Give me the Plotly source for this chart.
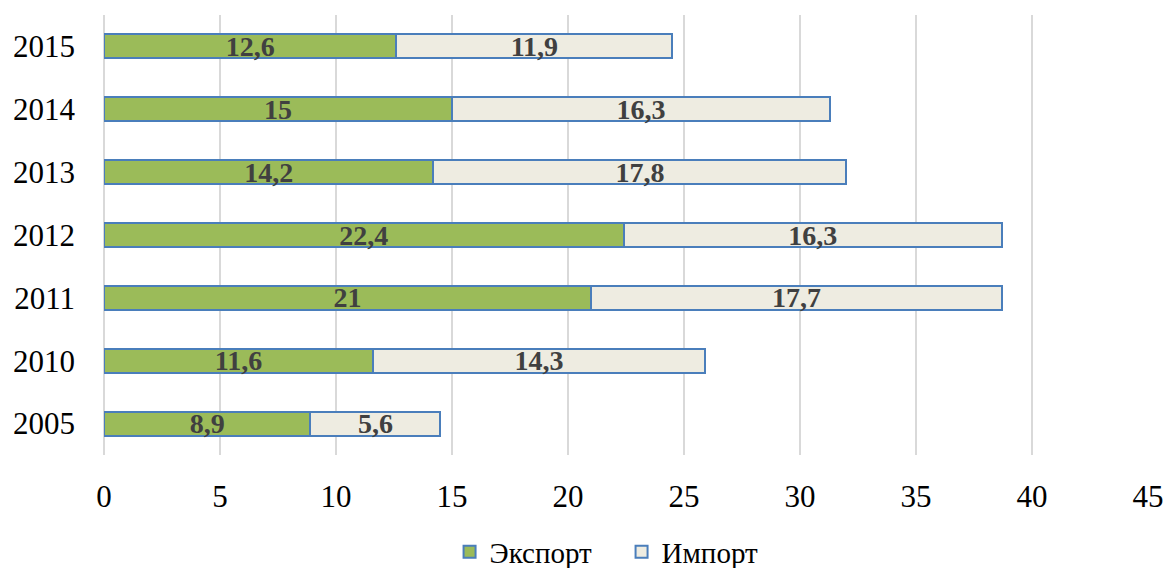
import plotly.graph_objects as go

years = ["2005", "2010", "2011", "2012", "2013", "2014", "2015"]
export_vals = [8.9, 11.6, 21, 22.4, 14.2, 15, 12.6]
import_vals = [5.6, 14.3, 17.7, 16.3, 17.8, 16.3, 11.9]
x_ticks = [0, 5, 10, 15, 20, 25, 30, 35, 40, 45]

def fmt(v):
    return str(v).replace(".", ",")

font_family = "Liberation Serif, Times New Roman, serif"
outline = "#4A7EBB"
label_font = dict(family=font_family, size=28, color="#404040", weight="bold")

fig = go.Figure()
fig.add_trace(go.Bar(
    y=years, x=export_vals, orientation="h", name="Экспорт",
    marker=dict(color="#9BBB59", line=dict(color=outline, width=2)),
    text=[fmt(v) for v in export_vals], textposition="inside",
    insidetextanchor="middle", textangle=0, textfont=label_font,
))
fig.add_trace(go.Bar(
    y=years, x=import_vals, orientation="h", name="Импорт",
    marker=dict(color="#EEECE1", line=dict(color=outline, width=2)),
    text=[fmt(v) for v in import_vals], textposition="inside",
    insidetextanchor="middle", textangle=0, textfont=label_font,
))

fig.update_layout(
    width=1167, height=568,
    barmode="stack", bargap=0.62,
    paper_bgcolor="white", plot_bgcolor="white",
    margin=dict(l=104, r=19, t=15, b=113, autoexpand=False),
    font=dict(family=font_family, size=31, color="#000000"),
    uniformtext=dict(minsize=28, mode="show"),
    legend=dict(orientation="h", x=0.331, xanchor="left", y=-0.22, yanchor="middle",
                font=dict(size=29, family=font_family), traceorder="normal",
                itemwidth=30, entrywidth=127, entrywidthmode="pixels"),
    xaxis=dict(range=[0, 45], tickvals=x_ticks, showgrid=True, gridcolor="#D9D9D9",
               gridwidth=2, zeroline=True, zerolinecolor="#D9D9D9", zerolinewidth=2,
               showline=False, ticks="",
               tickfont=dict(size=31), ticklabelstandoff=20, automargin=False),
    yaxis=dict(categoryorder="array", categoryarray=years, showgrid=False,
               showline=False, ticks="", tickfont=dict(size=31), ticklabelstandoff=28,
               automargin=False),
)

fig.write_html("out.html", config={"displayModeBar": False},
               post_script="document.body.style.margin='0';document.body.style.overflow='hidden';")
